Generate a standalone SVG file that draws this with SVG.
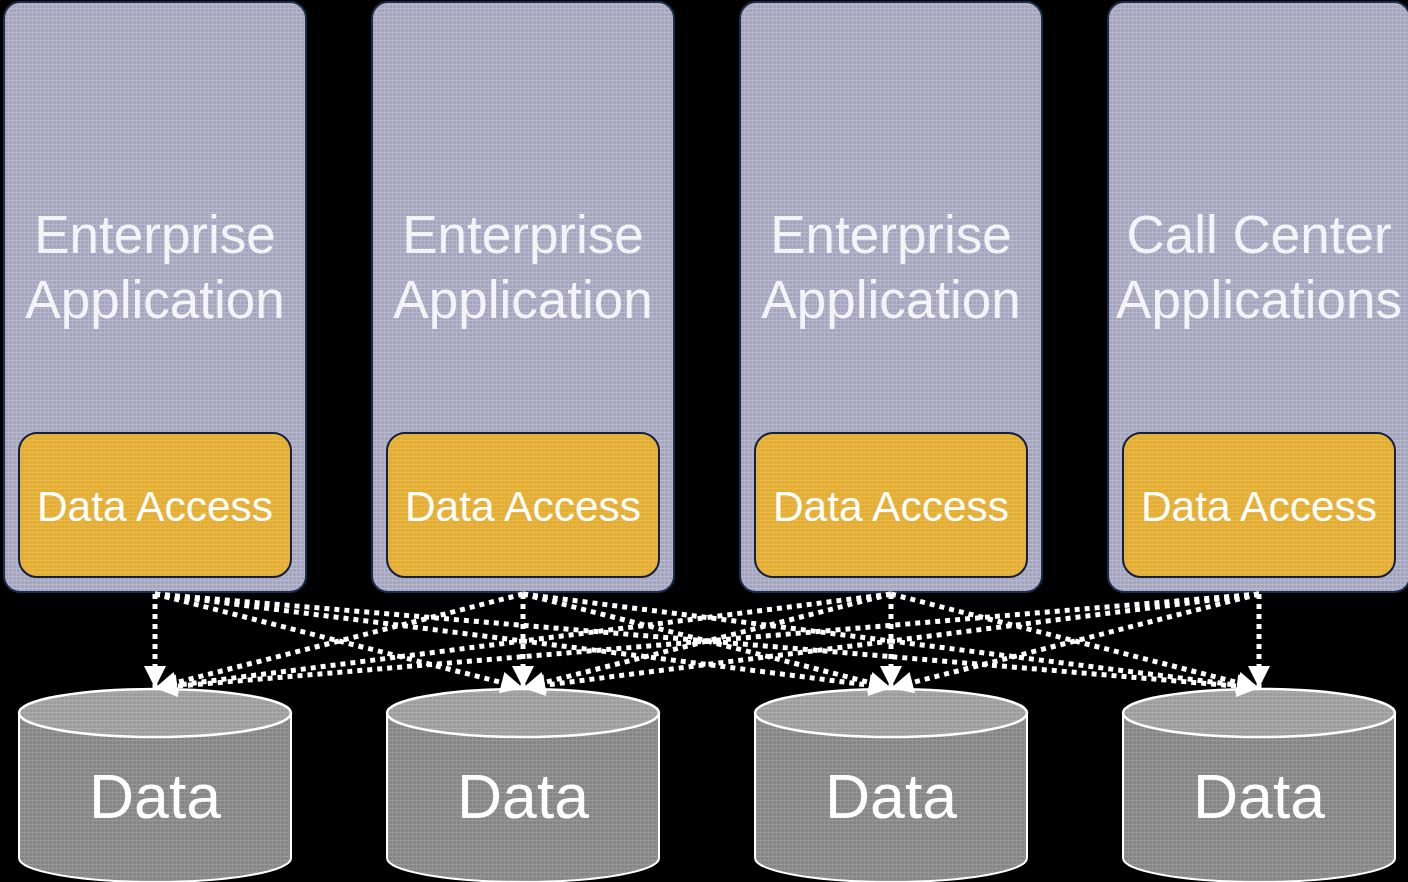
<svg xmlns="http://www.w3.org/2000/svg" width="1408" height="882" viewBox="0 0 1408 882">
  <defs>
    <style>
      .app { fill: url(#appTex); stroke: #1c2c4c; stroke-width: 2; }
      .dal { fill: url(#dalTex); stroke: #10203e; stroke-width: 2; }
      .cylBody { fill: url(#cylTex); stroke: #ffffff; stroke-width: 2; }
      .cylTop { fill: url(#cylTopTex); stroke: #ffffff; stroke-width: 2.5; }
      .title { font-family: "Liberation Sans", Arial, sans-serif; font-size: 53px; fill: #f4f4f8; text-anchor: middle; }
      .dalText { font-family: "Liberation Sans", Arial, sans-serif; font-size: 42.5px; fill: #ffffff; text-anchor: middle; }
      .dataText { font-family: "Liberation Sans", Arial, sans-serif; font-size: 62.5px; fill: #ffffff; text-anchor: middle; }
      .link { fill: none; stroke: #ffffff; stroke-width: 5; stroke-dasharray: 5 5; marker-end: url(#arrow); }
    </style>
    <!-- fine woven textures for the fills -->
    <pattern id="appTex" width="4" height="4" patternUnits="userSpaceOnUse">
      <rect width="4" height="4" fill="#a4a5bc"/>
      <rect width="4" height="1" fill="#babbd0"/>
      <rect width="1" height="4" fill="#b4b5ca"/>
    </pattern>
    <pattern id="dalTex" width="4" height="4" patternUnits="userSpaceOnUse">
      <rect width="4" height="4" fill="#e2ad33"/>
      <rect width="4" height="1" fill="#ecb84a"/>
      <rect width="1" height="4" fill="#e8b443"/>
    </pattern>
    <pattern id="cylTex" width="4" height="4" patternUnits="userSpaceOnUse">
      <rect width="4" height="4" fill="#858585"/>
      <rect width="4" height="1" fill="#9a9a9a"/>
      <rect width="1" height="4" fill="#939393"/>
    </pattern>
    <pattern id="cylTopTex" width="4" height="4" patternUnits="userSpaceOnUse">
      <rect width="4" height="4" fill="#9c9c9c"/>
      <rect width="4" height="1" fill="#b0b0b0"/>
      <rect width="1" height="4" fill="#a8a8a8"/>
    </pattern>
    <marker id="arrow" markerUnits="userSpaceOnUse" markerWidth="26" markerHeight="26" viewBox="0 0 26 26" refX="24" refY="13" orient="auto">
      <path d="M2,2 L24,13 L2,24 Z" fill="#ffffff"/>
    </marker>
  </defs>

  <rect width="1408" height="882" fill="#000000"/>

  <!-- application columns -->
  <g id="app1">
    <rect class="app" x="4" y="2" width="302" height="590" rx="16"/>
    <text class="title" x="155" y="253">Enterprise</text>
    <text class="title" x="155" y="318">Application</text>
    <rect class="dal" x="19" y="433" width="272" height="144" rx="18"/>
    <text class="dalText" x="155" y="521">Data Access</text>
  </g>
  <g id="app2">
    <rect class="app" x="372" y="2" width="302" height="590" rx="16"/>
    <text class="title" x="523" y="253">Enterprise</text>
    <text class="title" x="523" y="318">Application</text>
    <rect class="dal" x="387" y="433" width="272" height="144" rx="18"/>
    <text class="dalText" x="523" y="521">Data Access</text>
  </g>
  <g id="app3">
    <rect class="app" x="740" y="2" width="302" height="590" rx="16"/>
    <text class="title" x="891" y="253">Enterprise</text>
    <text class="title" x="891" y="318">Application</text>
    <rect class="dal" x="755" y="433" width="272" height="144" rx="18"/>
    <text class="dalText" x="891" y="521">Data Access</text>
  </g>
  <g id="app4">
    <rect class="app" x="1108" y="2" width="302" height="590" rx="16"/>
    <text class="title" x="1259" y="253">Call Center</text>
    <text class="title" x="1259" y="318">Applications</text>
    <rect class="dal" x="1123" y="433" width="272" height="144" rx="18"/>
    <text class="dalText" x="1259" y="521">Data Access</text>
  </g>

  <!-- data stores -->
  <g id="data1">
    <path class="cylBody" d="M19,713 L19,858 A136,24 0 0 0 291,858 L291,713"/>
    <ellipse class="cylTop" cx="155" cy="713" rx="136" ry="24"/>
    <text class="dataText" x="155" y="818">Data</text>
  </g>
  <g id="data2">
    <path class="cylBody" d="M387,713 L387,858 A136,24 0 0 0 659,858 L659,713"/>
    <ellipse class="cylTop" cx="523" cy="713" rx="136" ry="24"/>
    <text class="dataText" x="523" y="818">Data</text>
  </g>
  <g id="data3">
    <path class="cylBody" d="M755,713 L755,858 A136,24 0 0 0 1027,858 L1027,713"/>
    <ellipse class="cylTop" cx="891" cy="713" rx="136" ry="24"/>
    <text class="dataText" x="891" y="818">Data</text>
  </g>
  <g id="data4">
    <path class="cylBody" d="M1123,713 L1123,858 A136,24 0 0 0 1395,858 L1395,713"/>
    <ellipse class="cylTop" cx="1259" cy="713" rx="136" ry="24"/>
    <text class="dataText" x="1259" y="818">Data</text>
  </g>

  <!-- every data access layer reaches every data store -->
  <g id="connectors">
    <line class="link" x1="155" y1="594" x2="155" y2="688"/>
    <line class="link" x1="155" y1="594" x2="523" y2="688"/>
    <line class="link" x1="155" y1="594" x2="891" y2="688"/>
    <line class="link" x1="155" y1="594" x2="1259" y2="688"/>
    <line class="link" x1="523" y1="594" x2="155" y2="688"/>
    <line class="link" x1="523" y1="594" x2="523" y2="688"/>
    <line class="link" x1="523" y1="594" x2="891" y2="688"/>
    <line class="link" x1="523" y1="594" x2="1259" y2="688"/>
    <line class="link" x1="891" y1="594" x2="155" y2="688"/>
    <line class="link" x1="891" y1="594" x2="523" y2="688"/>
    <line class="link" x1="891" y1="594" x2="891" y2="688"/>
    <line class="link" x1="891" y1="594" x2="1259" y2="688"/>
    <line class="link" x1="1259" y1="594" x2="155" y2="688"/>
    <line class="link" x1="1259" y1="594" x2="523" y2="688"/>
    <line class="link" x1="1259" y1="594" x2="891" y2="688"/>
    <line class="link" x1="1259" y1="594" x2="1259" y2="688"/>
  </g>
</svg>
